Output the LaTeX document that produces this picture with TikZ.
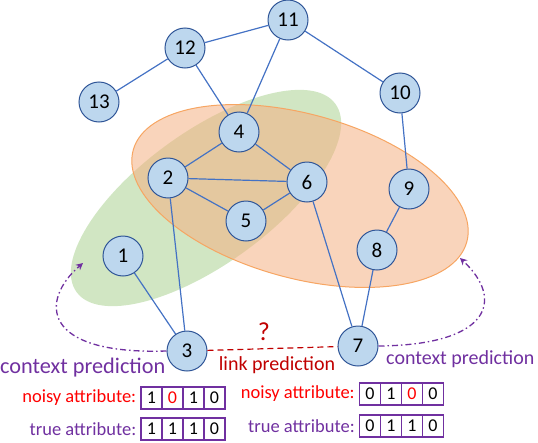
\documentclass[tikz,border=0pt]{standalone}
\usepackage{fontspec}
\setmainfont{Carlito}
\usetikzlibrary{positioning,arrows.meta}
\definecolor{nodefill}{HTML}{BDD7EE}
\definecolor{nodeline}{HTML}{2F5597}
\definecolor{edgeblue}{HTML}{4472C4}
\definecolor{ctxpurple}{HTML}{7030A0}
\definecolor{linkred}{HTML}{C00000}
\definecolor{greenset}{HTML}{C5E0B4}
\definecolor{orangeset}{HTML}{F4B183}
\tikzset{
  vertex/.style={circle,draw=nodeline,fill=nodefill,line width=1pt,minimum size=40pt,inner sep=0pt,font=\fontsize{21}{24}\selectfont},
  edge/.style={draw=edgeblue,line width=1.2pt},
  cell/.style={draw=ctxpurple,line width=1.2pt,minimum width=21pt,minimum height=22pt,inner sep=0pt,font=\fontsize{18}{20}\selectfont},
  ctx/.style={ctxpurple,line width=1.3pt,dash pattern=on 6pt off 3pt on 1.5pt off 3pt,-{Stealth[length=7pt,width=7pt]}},
  attr/.style={inner sep=0pt,font=\fontsize{18.5}{20}\selectfont}
}
\begin{document}
\begin{tikzpicture}[x=1pt,y=-1pt,>=stealth]
\useasboundingbox (0,0) rectangle (538,442);
% the two context sets
\fill[greenset,opacity=0.8,rotate around={36:(206,198)}] (206,198) ellipse [x radius=160,y radius=66];
\draw[orangeset!75!orange,line width=1pt,fill=orangeset,fill opacity=0.55,rotate around={-15.4:(300,196)}] (300,196) ellipse [x radius=173,y radius=82];
% graph
\node[vertex] (n1) at (123,256) {1};
\node[vertex] (n2) at (168,178) {2};
\node[vertex] (n3) at (187,351) {3};
\node[vertex] (n4) at (239,132) {4};
\node[vertex] (n5) at (246,221) {5};
\node[vertex] (n6) at (307,182) {6};
\node[vertex] (n7) at (358,346) {7};
\node[vertex] (n8) at (377,250) {8};
\node[vertex] (n9) at (409,189) {9};
\node[vertex] (n10) at (400,93) {10};
\node[vertex] (n11) at (288,20) {11};
\node[vertex] (n12) at (185,48) {12};
\node[vertex] (n13) at (99,102) {13};
\draw[edge] (n13) -- (n12) -- (n11) -- (n10) -- (n9) -- (n8) -- (n7);
\draw[edge] (n12) -- (n4) -- (n11);
\draw[edge] (n2) -- (n4) -- (n6) -- (n2) -- (n5) -- (n6);
\draw[edge] (n2) -- (n3) -- (n1);
\draw[edge] (n6) -- (n7);
% link prediction
\draw[linkred,line width=1.2pt,dash pattern=on 6pt off 4pt] (n3) -- (n7);
\node[text=linkred,font=\fontsize{26}{28}\selectfont] (q) at (264,332) {?};
\node[text=linkred,font=\fontsize{20}{24}\selectfont] (linklbl) at (277,365) {link prediction};
% context prediction
\coordinate (lefttip) at (83,263);
\coordinate (righttip) at (460,258);
\draw[ctx] (n3.west) .. controls (40,355) and (40,300) .. (lefttip);
\draw[ctx] (n7.east) .. controls (490,345) and (505,300) .. (righttip);
\node[text=ctxpurple,anchor=west,inner sep=0pt,font=\fontsize{22.3}{26}\selectfont] (ctxl) at (0,368) {context prediction};
\node[text=ctxpurple,anchor=west,inner sep=0pt,font=\fontsize{20}{24}\selectfont] (ctxr) at (386,359) {context prediction};
% attributes
\foreach \v/\c [count=\i] in {1/black,0/red,1/black,0/black}
  \node[cell,text=\c] (ln\i) at (130.5+21*\i,398) {\v};
\foreach \v [count=\i] in {1,1,1,0}
  \node[cell] (lt\i) at (130.5+21*\i,429) {\v};
\foreach \v/\c [count=\i] in {0/black,1/black,0/red,0/black}
  \node[cell,text=\c] (rn\i) at (349+21*\i,394) {\v};
\foreach \v [count=\i] in {0,1,1,0}
  \node[cell] (rt\i) at (349+21*\i,426) {\v};
\node[attr,text=red,left=4pt of ln1] (lnoisy) {noisy attribute:};
\node[attr,text=ctxpurple,left=4pt of lt1] (ltrue) {true attribute:};
\node[attr,text=red,left=4pt of rn1] (rnoisy) {noisy attribute:};
\node[attr,text=ctxpurple,left=4pt of rt1] (rtrue) {true attribute:};
\end{tikzpicture}
\end{document}
